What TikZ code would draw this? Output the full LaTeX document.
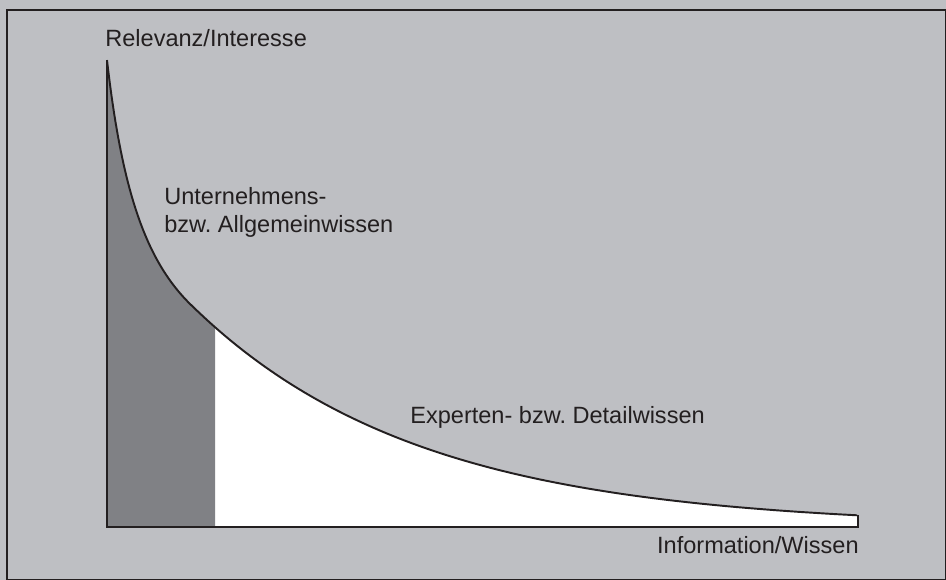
\documentclass[tikz,border=0pt]{standalone}
\usepackage{fontspec}
\setmainfont{Liberation Sans}
\frenchspacing
\definecolor{bggray}{RGB}{190,191,195}
\definecolor{areagray}{RGB}{128,129,133}
\definecolor{inkblack}{RGB}{35,31,32}
\begin{document}
\begin{tikzpicture}[x=0.02cm,y=-0.02cm]
\tikzstyle{lbl}=[inner sep=0pt,anchor=base west,text=inkblack,font=\fontsize{13.4}{16}\selectfont]
\tikzstyle{axis}=[draw=inkblack,line width=1.4pt]
\def\curvepath{plot[domain=107:190,samples=60] (\x,{427-15374/(\x-65.1)}) -- plot[domain=190:857,samples=100] (\x,{527-223.1*exp(-(\x-190)/226.4)})}
\useasboundingbox (0,0) rectangle (946,580);
\fill[bggray] (0,0) rectangle (946,580);
\draw[inkblack,line width=1.1pt] (7,10) rectangle (946,580);

\coordinate (ytop) at (107,60);
\coordinate (o) at (107,527);
\coordinate (xend) at (858,527);
\coordinate (xstub) at (858,515.3);

\fill[white] \curvepath -- (858,515.3) -- (858,527) -- (107,527) -- cycle;
\begin{scope}
\clip (107,0) rectangle (215,527);
\fill[areagray] \curvepath -- (858,527) -- (107,527) -- cycle;
\end{scope}
\draw[inkblack,line width=1.1pt] \curvepath;
\draw[axis] (ytop) -- (o) -- (xend) -- (xstub);

\node[lbl] at (105,47) (yl) {Relevanz/Interesse};
\node[lbl] at (164,205) (u1) {Unternehmens-};
\node[lbl] at (164,233) (u2) {bzw. Allgemeinwissen};
\node[lbl] at (410,423) (ex) {Experten- bzw. Detailwissen};
\node[lbl,anchor=base east] at (859,553) (xl) {Information/Wissen};
\end{tikzpicture}
\end{document}
